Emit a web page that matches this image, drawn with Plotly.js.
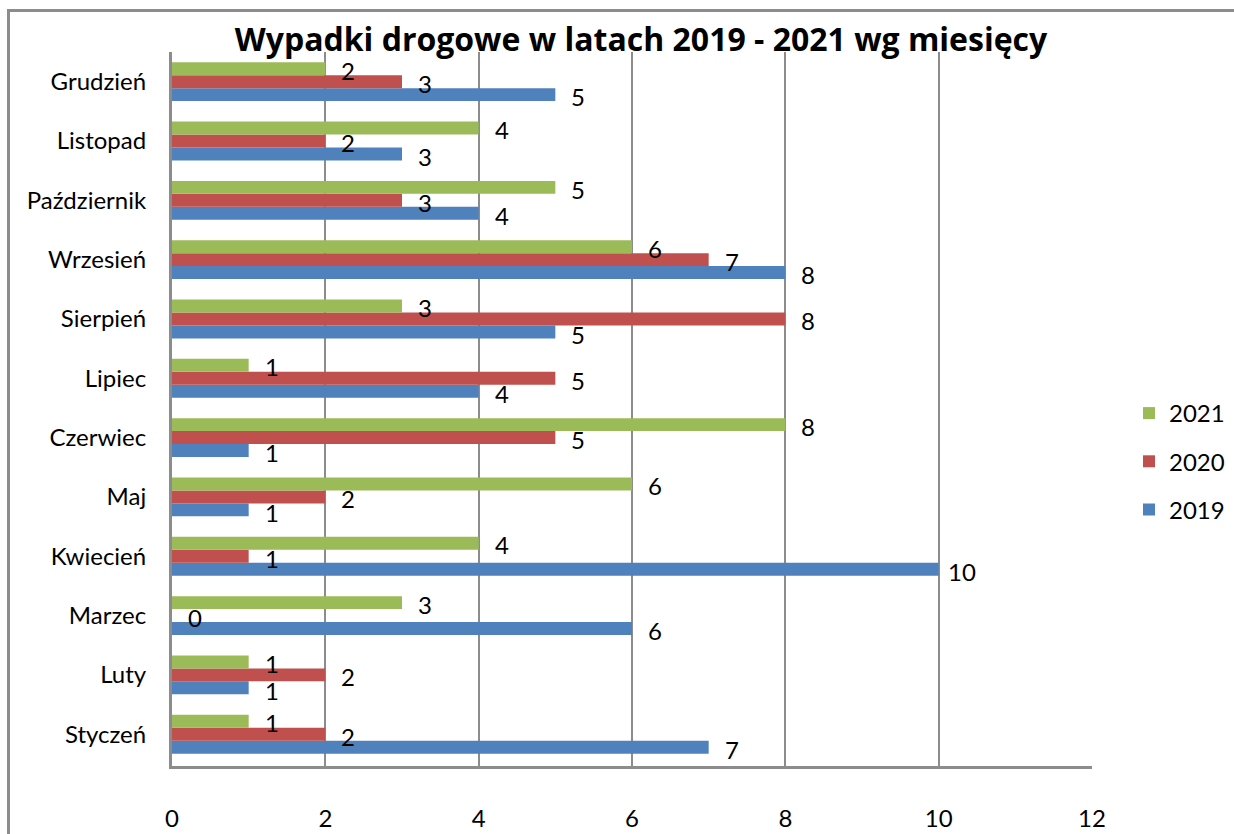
<!DOCTYPE html>
<html>
<head>
<meta charset="utf-8">
<script src="https://cdn.plot.ly/plotly-3.0.1.min.js"></script>
<style>
  html, body { margin: 0; padding: 0; background: #ffffff; overflow: hidden; width: 1234px; height: 834px; }
  #frame { position: absolute; left: 7px; top: 9px; width: 1400px; height: 1000px; border: 3px solid #8c8c8c; box-sizing: border-box; }
  #chart { position: absolute; left: 0; top: 0; width: 1234px; height: 834px; }
</style>
</head>
<body>
<div id="frame"></div>
<div id="chart"></div>
<script>
const months = ["Styczeń", "Luty", "Marzec", "Kwiecień", "Maj", "Czerwiec", "Lipiec", "Sierpień", "Wrzesień", "Październik", "Listopad", "Grudzień"];
const years = ["2019", "2020", "2021"];
const values2019 = [7, 1, 6, 10, 1, 1, 4, 5, 8, 4, 3, 5];
const values2020 = [2, 2, 0, 1, 2, 5, 5, 8, 7, 3, 2, 3];
const values2021 = [1, 1, 3, 4, 6, 8, 1, 3, 6, 5, 4, 2];
const colors = ["#4F81BD", "#C0504D", "#9BBB59"];
const xTicks = [0, 2, 4, 6, 8, 10, 12];
const title = "Wypadki drogowe w latach 2019 - 2021 wg miesięcy";

const series = [values2019, values2020, values2021];
const FONT = "Lato, 'Open Sans', sans-serif";

const traces = series.map((vals, i) => ({
  type: "bar",
  orientation: "h",
  name: years[i],
  x: vals,
  y: months,
  marker: { color: colors[i] },
  legendgroup: years[i],
  legendrank: 10 - i,
  hoverinfo: "x+name"
}));

const annotations = [];
series.forEach((vals, i) => {
  vals.forEach((v, j) => {
    annotations.push({
      x: v, y: months[j], xref: "x", yref: "y",
      text: String(v), showarrow: false,
      xanchor: "center", yanchor: "middle",
      xshift: 23, yshift: (i - 1) * 13.3 - 2,
      font: { family: FONT, size: 24, color: "#000000" }
    });
  });
});

const layout = {
  width: 1234, height: 834,
  paper_bgcolor: "rgba(0,0,0,0)",
  plot_bgcolor: "rgba(0,0,0,0)",
  margin: { l: 172, r: 142, t: 52, b: 68 },
  barmode: "group",
  bargap: 0.345,
  bargroupgap: 0,
  title: {
    text: "<b>" + title + "</b>",
    font: { family: "'Open Sans', Lato, sans-serif", size: 32, color: "#000000" },
    xref: "container", yref: "container",
    x: 641 / 1234, xanchor: "center",
    y: 1 - 40 / 834, yanchor: "middle"
  },
  xaxis: {
    range: [0, 12],
    tickvals: xTicks,
    ticktext: xTicks.map(String),
    showgrid: true, gridcolor: "#8c8c8c", gridwidth: 2,
    zeroline: false,
    showline: true, linecolor: "#8c8c8c", linewidth: 3,
    ticks: "",
    ticklabelstandoff: 29,
    tickfont: { family: FONT, size: 24, color: "#000000" },
    fixedrange: true
  },
  yaxis: {
    type: "category",
    categoryorder: "array", categoryarray: months,
    showgrid: false, zeroline: false,
    showline: true, linecolor: "#8c8c8c", linewidth: 3,
    ticks: "",
    ticklabelstandoff: 18,
    tickfont: { family: FONT, size: 24, color: "#000000" },
    fixedrange: true
  },
  showlegend: true,
  legend: {
    x: 1129 / 1234, xref: "container", xanchor: "left",
    y: 1 - 391 / 834, yref: "container", yanchor: "top",
    traceorder: "grouped",
    tracegroupgap: 14,
    font: { family: FONT, size: 24, color: "#000000" },
    bgcolor: "rgba(0,0,0,0)",
    itemwidth: 30
  },
  annotations: annotations
};

Plotly.newPlot("chart", traces, layout, { displayModeBar: false, staticPlot: true });
</script>
</body>
</html>
